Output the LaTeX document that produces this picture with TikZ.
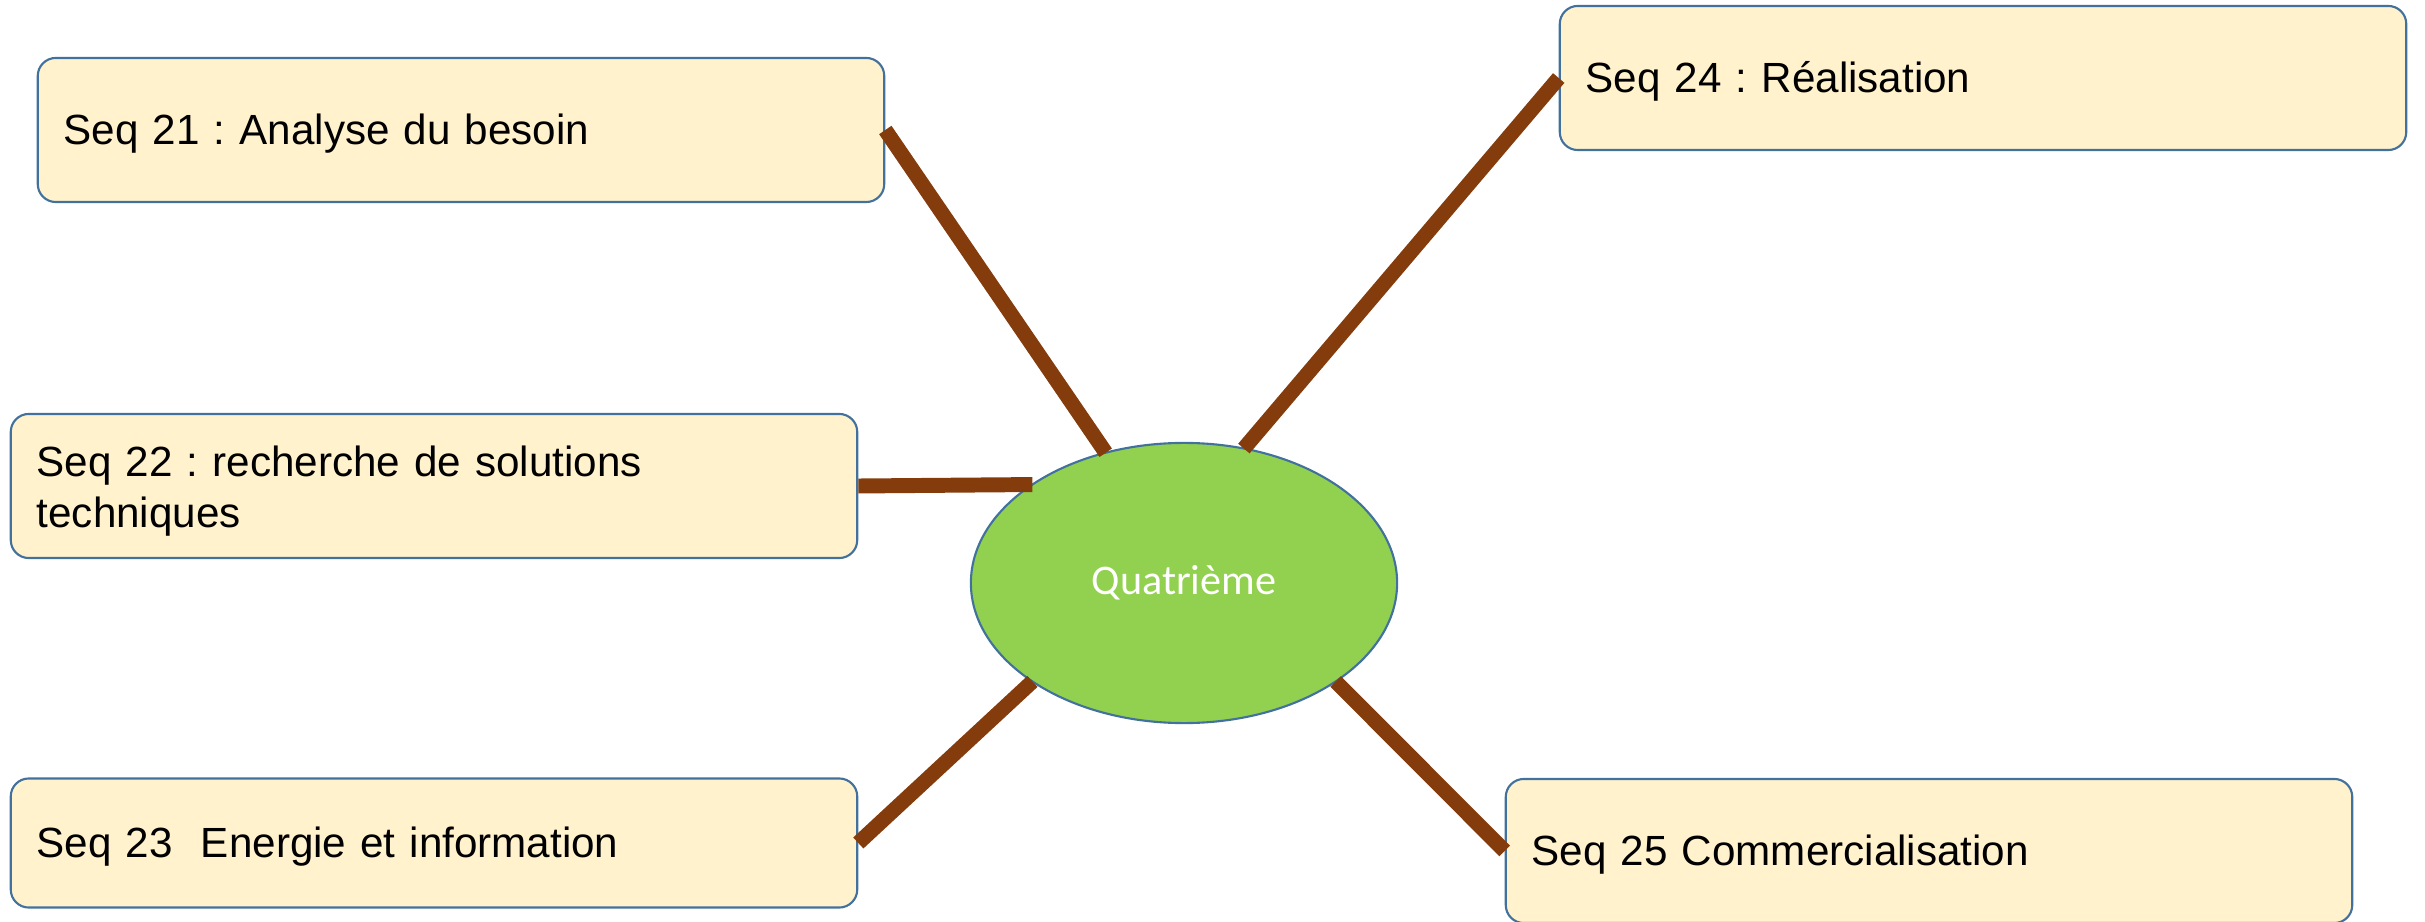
\documentclass[tikz,border=0pt]{standalone}
\usepackage{fontspec}
\setmainfont{Liberation Sans}
\newfontfamily\quatfont{Carlito}
\usetikzlibrary{shapes.geometric}
\definecolor{boxfill}{HTML}{FFF2CC}
\definecolor{boxline}{HTML}{41719C}
\definecolor{linkbrown}{HTML}{843C0C}
\definecolor{quatgreen}{HTML}{92D050}
\frenchspacing

\begin{document}
\begin{tikzpicture}[x=0.01cm,y=-0.01cm]

      \useasboundingbox (0,0) rectangle (2425,922);

      \begin{scope}[every node/.style={rectangle,rounded corners=0.18cm,draw=boxline,line width=0.6pt,
          fill=boxfill,minimum width=8.46cm,minimum height=1.44cm,text width=7.94cm,inner xsep=0.26cm,
          text height=10.5pt,text depth=2pt,align=left,font=\fontsize{12}{14.5}\selectfont}]
        \node (21) at (461,130)  {Seq 21 : Analyse du besoin};
        \node[text depth=16.1pt] (22) at (434,486)  {Seq 22 : recherche de solutions\\techniques};
        \node[minimum height=1.29cm] (23) at (434,843) {Seq 23 \ Energie et information};
        \node (24) at (1983,78)  {Seq 24 : Réalisation};
        \node (25) at (1929,851) {Seq 25 Commercialisation};
      \end{scope}

      \node[ellipse,draw=boxline,line width=0.6pt,fill=quatgreen,minimum width=4.26cm,minimum height=2.8cm,
        inner sep=0pt,outer sep=0pt,text=white,font=\quatfont\fontsize{12}{14.4}\selectfont] (q) at (1184,583) {Quatrième};

      \begin{scope}[every edge/.style={draw=linkbrown,line width=4.25pt}]
        \path (21.east) edge (q.121);
        \path (22.east) edge (q.147);
        \path (23.east) edge (q.213);
        \path (24.west) edge (q.66);
        \path (25.west) edge (q.327);
      \end{scope}

    \end{tikzpicture}
\end{document}
